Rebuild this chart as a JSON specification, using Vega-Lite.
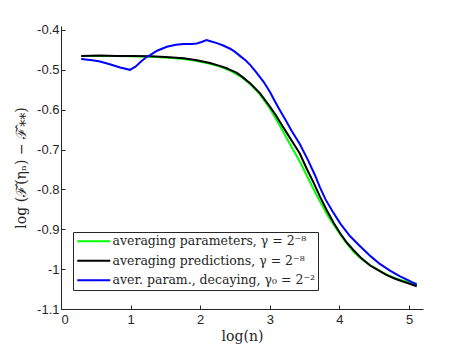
{
  "$schema": "https://vega.github.io/schema/vega-lite/v6.json",
  "width": 362,
  "height": 283,
  "autosize": {"type": "none"},
  "padding": {"left": 61, "top": 26, "right": 44, "bottom": 41},
  "background": "white",
  "config": {
    "view": {"stroke": null},
    "axis": {
      "domainColor": "#262626",
      "tickColor": "#262626",
      "labelColor": "#262626",
      "labelFont": "Liberation Sans",
      "labelFontSize": 13,
      "tickSize": -4,
      "grid": false,
      "titleFont": "DejaVu Serif",
      "titleFontSize": 14,
      "titleFontWeight": "normal",
      "titleColor": "#262626"
    }
  },
  "datasets": {
    "curves": [
      {"series": "averaging parameters, γ = 2⁻⁸", "x": 0.29, "y": -0.465},
      {"series": "averaging parameters, γ = 2⁻⁸", "x": 0.56, "y": -0.465},
      {"series": "averaging parameters, γ = 2⁻⁸", "x": 0.8, "y": -0.465},
      {"series": "averaging parameters, γ = 2⁻⁸", "x": 1.0, "y": -0.466},
      {"series": "averaging parameters, γ = 2⁻⁸", "x": 1.28, "y": -0.467},
      {"series": "averaging parameters, γ = 2⁻⁸", "x": 1.5, "y": -0.469},
      {"series": "averaging parameters, γ = 2⁻⁸", "x": 1.76, "y": -0.473},
      {"series": "averaging parameters, γ = 2⁻⁸", "x": 1.95, "y": -0.478},
      {"series": "averaging parameters, γ = 2⁻⁸", "x": 2.14, "y": -0.485},
      {"series": "averaging parameters, γ = 2⁻⁸", "x": 2.28, "y": -0.492},
      {"series": "averaging parameters, γ = 2⁻⁸", "x": 2.43, "y": -0.502},
      {"series": "averaging parameters, γ = 2⁻⁸", "x": 2.6, "y": -0.519},
      {"series": "averaging parameters, γ = 2⁻⁸", "x": 2.72, "y": -0.536},
      {"series": "averaging parameters, γ = 2⁻⁸", "x": 2.86, "y": -0.562},
      {"series": "averaging parameters, γ = 2⁻⁸", "x": 3.0, "y": -0.597},
      {"series": "averaging parameters, γ = 2⁻⁸", "x": 3.15, "y": -0.642},
      {"series": "averaging parameters, γ = 2⁻⁸", "x": 3.3, "y": -0.69},
      {"series": "averaging parameters, γ = 2⁻⁸", "x": 3.43, "y": -0.73},
      {"series": "averaging parameters, γ = 2⁻⁸", "x": 3.55, "y": -0.772},
      {"series": "averaging parameters, γ = 2⁻⁸", "x": 3.67, "y": -0.814},
      {"series": "averaging parameters, γ = 2⁻⁸", "x": 3.72, "y": -0.83},
      {"series": "averaging parameters, γ = 2⁻⁸", "x": 3.84, "y": -0.868},
      {"series": "averaging parameters, γ = 2⁻⁸", "x": 3.96, "y": -0.9},
      {"series": "averaging parameters, γ = 2⁻⁸", "x": 4.08, "y": -0.93},
      {"series": "averaging parameters, γ = 2⁻⁸", "x": 4.2, "y": -0.956},
      {"series": "averaging parameters, γ = 2⁻⁸", "x": 4.32, "y": -0.975},
      {"series": "averaging parameters, γ = 2⁻⁸", "x": 4.44, "y": -0.99},
      {"series": "averaging parameters, γ = 2⁻⁸", "x": 4.58, "y": -1.005},
      {"series": "averaging parameters, γ = 2⁻⁸", "x": 4.72, "y": -1.017},
      {"series": "averaging parameters, γ = 2⁻⁸", "x": 4.87, "y": -1.027},
      {"series": "averaging parameters, γ = 2⁻⁸", "x": 5.0, "y": -1.032},
      {"series": "averaging parameters, γ = 2⁻⁸", "x": 5.11, "y": -1.036},

      {"series": "averaging predictions, γ = 2⁻⁸", "x": 0.29, "y": -0.465},
      {"series": "averaging predictions, γ = 2⁻⁸", "x": 0.56, "y": -0.464},
      {"series": "averaging predictions, γ = 2⁻⁸", "x": 0.8, "y": -0.465},
      {"series": "averaging predictions, γ = 2⁻⁸", "x": 1.0, "y": -0.465},
      {"series": "averaging predictions, γ = 2⁻⁸", "x": 1.28, "y": -0.466},
      {"series": "averaging predictions, γ = 2⁻⁸", "x": 1.5, "y": -0.468},
      {"series": "averaging predictions, γ = 2⁻⁸", "x": 1.76, "y": -0.471},
      {"series": "averaging predictions, γ = 2⁻⁸", "x": 1.95, "y": -0.476},
      {"series": "averaging predictions, γ = 2⁻⁸", "x": 2.14, "y": -0.483},
      {"series": "averaging predictions, γ = 2⁻⁸", "x": 2.28, "y": -0.49},
      {"series": "averaging predictions, γ = 2⁻⁸", "x": 2.38, "y": -0.496},
      {"series": "averaging predictions, γ = 2⁻⁸", "x": 2.43, "y": -0.5},
      {"series": "averaging predictions, γ = 2⁻⁸", "x": 2.52, "y": -0.507},
      {"series": "averaging predictions, γ = 2⁻⁸", "x": 2.6, "y": -0.517},
      {"series": "averaging predictions, γ = 2⁻⁸", "x": 2.72, "y": -0.534},
      {"series": "averaging predictions, γ = 2⁻⁸", "x": 2.86, "y": -0.559},
      {"series": "averaging predictions, γ = 2⁻⁸", "x": 3.0, "y": -0.592},
      {"series": "averaging predictions, γ = 2⁻⁸", "x": 3.08, "y": -0.612},
      {"series": "averaging predictions, γ = 2⁻⁸", "x": 3.15, "y": -0.632},
      {"series": "averaging predictions, γ = 2⁻⁸", "x": 3.25, "y": -0.66},
      {"series": "averaging predictions, γ = 2⁻⁸", "x": 3.34, "y": -0.685},
      {"series": "averaging predictions, γ = 2⁻⁸", "x": 3.43, "y": -0.71},
      {"series": "averaging predictions, γ = 2⁻⁸", "x": 3.53, "y": -0.748},
      {"series": "averaging predictions, γ = 2⁻⁸", "x": 3.62, "y": -0.78},
      {"series": "averaging predictions, γ = 2⁻⁸", "x": 3.72, "y": -0.818},
      {"series": "averaging predictions, γ = 2⁻⁸", "x": 3.82, "y": -0.853},
      {"series": "averaging predictions, γ = 2⁻⁸", "x": 3.92, "y": -0.885},
      {"series": "averaging predictions, γ = 2⁻⁸", "x": 4.01, "y": -0.91},
      {"series": "averaging predictions, γ = 2⁻⁸", "x": 4.1, "y": -0.932},
      {"series": "averaging predictions, γ = 2⁻⁸", "x": 4.2, "y": -0.952},
      {"series": "averaging predictions, γ = 2⁻⁸", "x": 4.3, "y": -0.97},
      {"series": "averaging predictions, γ = 2⁻⁸", "x": 4.44, "y": -0.991},
      {"series": "averaging predictions, γ = 2⁻⁸", "x": 4.55, "y": -1.002},
      {"series": "averaging predictions, γ = 2⁻⁸", "x": 4.68, "y": -1.015},
      {"series": "averaging predictions, γ = 2⁻⁸", "x": 4.8, "y": -1.024},
      {"series": "averaging predictions, γ = 2⁻⁸", "x": 4.91, "y": -1.031},
      {"series": "averaging predictions, γ = 2⁻⁸", "x": 5.0, "y": -1.036},
      {"series": "averaging predictions, γ = 2⁻⁸", "x": 5.11, "y": -1.043},

      {"series": "aver. param., decaying, γ₀ = 2⁻²", "x": 0.29, "y": -0.473},
      {"series": "aver. param., decaying, γ₀ = 2⁻²", "x": 0.45, "y": -0.476},
      {"series": "aver. param., decaying, γ₀ = 2⁻²", "x": 0.56, "y": -0.479},
      {"series": "aver. param., decaying, γ₀ = 2⁻²", "x": 0.7, "y": -0.486},
      {"series": "aver. param., decaying, γ₀ = 2⁻²", "x": 0.85, "y": -0.494},
      {"series": "aver. param., decaying, γ₀ = 2⁻²", "x": 0.99, "y": -0.5},
      {"series": "aver. param., decaying, γ₀ = 2⁻²", "x": 1.07, "y": -0.492},
      {"series": "aver. param., decaying, γ₀ = 2⁻²", "x": 1.15, "y": -0.479},
      {"series": "aver. param., decaying, γ₀ = 2⁻²", "x": 1.22, "y": -0.469},
      {"series": "aver. param., decaying, γ₀ = 2⁻²", "x": 1.28, "y": -0.463},
      {"series": "aver. param., decaying, γ₀ = 2⁻²", "x": 1.38, "y": -0.452},
      {"series": "aver. param., decaying, γ₀ = 2⁻²", "x": 1.52, "y": -0.442},
      {"series": "aver. param., decaying, γ₀ = 2⁻²", "x": 1.65, "y": -0.437},
      {"series": "aver. param., decaying, γ₀ = 2⁻²", "x": 1.76, "y": -0.435},
      {"series": "aver. param., decaying, γ₀ = 2⁻²", "x": 1.88, "y": -0.435},
      {"series": "aver. param., decaying, γ₀ = 2⁻²", "x": 1.95, "y": -0.434},
      {"series": "aver. param., decaying, γ₀ = 2⁻²", "x": 2.02, "y": -0.43},
      {"series": "aver. param., decaying, γ₀ = 2⁻²", "x": 2.09, "y": -0.425},
      {"series": "aver. param., decaying, γ₀ = 2⁻²", "x": 2.16, "y": -0.429},
      {"series": "aver. param., decaying, γ₀ = 2⁻²", "x": 2.24, "y": -0.433},
      {"series": "aver. param., decaying, γ₀ = 2⁻²", "x": 2.33, "y": -0.439},
      {"series": "aver. param., decaying, γ₀ = 2⁻²", "x": 2.43, "y": -0.447},
      {"series": "aver. param., decaying, γ₀ = 2⁻²", "x": 2.5, "y": -0.455},
      {"series": "aver. param., decaying, γ₀ = 2⁻²", "x": 2.57, "y": -0.465},
      {"series": "aver. param., decaying, γ₀ = 2⁻²", "x": 2.65, "y": -0.476},
      {"series": "aver. param., decaying, γ₀ = 2⁻²", "x": 2.72, "y": -0.488},
      {"series": "aver. param., decaying, γ₀ = 2⁻²", "x": 2.8, "y": -0.505},
      {"series": "aver. param., decaying, γ₀ = 2⁻²", "x": 2.91, "y": -0.53},
      {"series": "aver. param., decaying, γ₀ = 2⁻²", "x": 3.0, "y": -0.555},
      {"series": "aver. param., decaying, γ₀ = 2⁻²", "x": 3.07, "y": -0.578},
      {"series": "aver. param., decaying, γ₀ = 2⁻²", "x": 3.15, "y": -0.603},
      {"series": "aver. param., decaying, γ₀ = 2⁻²", "x": 3.23, "y": -0.627},
      {"series": "aver. param., decaying, γ₀ = 2⁻²", "x": 3.31, "y": -0.652},
      {"series": "aver. param., decaying, γ₀ = 2⁻²", "x": 3.43, "y": -0.686},
      {"series": "aver. param., decaying, γ₀ = 2⁻²", "x": 3.55, "y": -0.727},
      {"series": "aver. param., decaying, γ₀ = 2⁻²", "x": 3.65, "y": -0.765},
      {"series": "aver. param., decaying, γ₀ = 2⁻²", "x": 3.72, "y": -0.795},
      {"series": "aver. param., decaying, γ₀ = 2⁻²", "x": 3.8, "y": -0.825},
      {"series": "aver. param., decaying, γ₀ = 2⁻²", "x": 3.9, "y": -0.855},
      {"series": "aver. param., decaying, γ₀ = 2⁻²", "x": 4.01, "y": -0.885},
      {"series": "aver. param., decaying, γ₀ = 2⁻²", "x": 4.15, "y": -0.917},
      {"series": "aver. param., decaying, γ₀ = 2⁻²", "x": 4.3, "y": -0.943},
      {"series": "aver. param., decaying, γ₀ = 2⁻²", "x": 4.45, "y": -0.968},
      {"series": "aver. param., decaying, γ₀ = 2⁻²", "x": 4.58, "y": -0.987},
      {"series": "aver. param., decaying, γ₀ = 2⁻²", "x": 4.72, "y": -1.003},
      {"series": "aver. param., decaying, γ₀ = 2⁻²", "x": 4.87, "y": -1.018},
      {"series": "aver. param., decaying, γ₀ = 2⁻²", "x": 5.0, "y": -1.029},
      {"series": "aver. param., decaying, γ₀ = 2⁻²", "x": 5.11, "y": -1.039}
    ]
  },
  "data": {"name": "curves"},
  "mark": {"type": "line", "strokeWidth": 2, "clip": true},
  "encoding": {
    "x": {
      "field": "x",
      "type": "quantitative",
      "scale": {"domain": [0, 5.2], "nice": false},
      "axis": {"values": [0, 1, 2, 3, 4, 5], "title": "log(n)", "labelPadding": 8, "titlePadding": 3}
    },
    "y": {
      "field": "y",
      "type": "quantitative",
      "scale": {"domain": [-1.1, -0.39], "nice": false, "zero": false},
      "axis": {
        "values": [-1.1, -1, -0.9, -0.8, -0.7, -0.6, -0.5, -0.4],
        "labelExpr": "toString(datum.value)",
        "title": "log (ℱ̂(ηₙ) − ℱ̂⁎⁎)",
        "labelPadding": 6,
        "titlePadding": 8
      }
    },
    "color": {
      "field": "series",
      "type": "nominal",
      "sort": null,
      "scale": {
        "domain": ["averaging parameters, γ = 2⁻⁸", "averaging predictions, γ = 2⁻⁸", "aver. param., decaying, γ₀ = 2⁻²"],
        "range": ["#00ff00", "#000000", "#0000ff"]
      },
      "legend": {
        "title": null,
        "orient": "none",
        "legendX": 12,
        "legendY": 206,
        "padding": 3,
        "strokeColor": "#262626",
        "fillColor": "white",
        "symbolType": "M-1,0H5.6",
        "symbolSize": 100,
        "symbolStrokeWidth": 2,
        "symbolFillColor": "transparent",
        "labelFont": "DejaVu Serif",
        "labelFontSize": 12.5,
        "labelColor": "#262626",
        "labelOffset": 24,
        "labelLimit": 400,
        "rowPadding": 6.5
      }
    }
  }
}
